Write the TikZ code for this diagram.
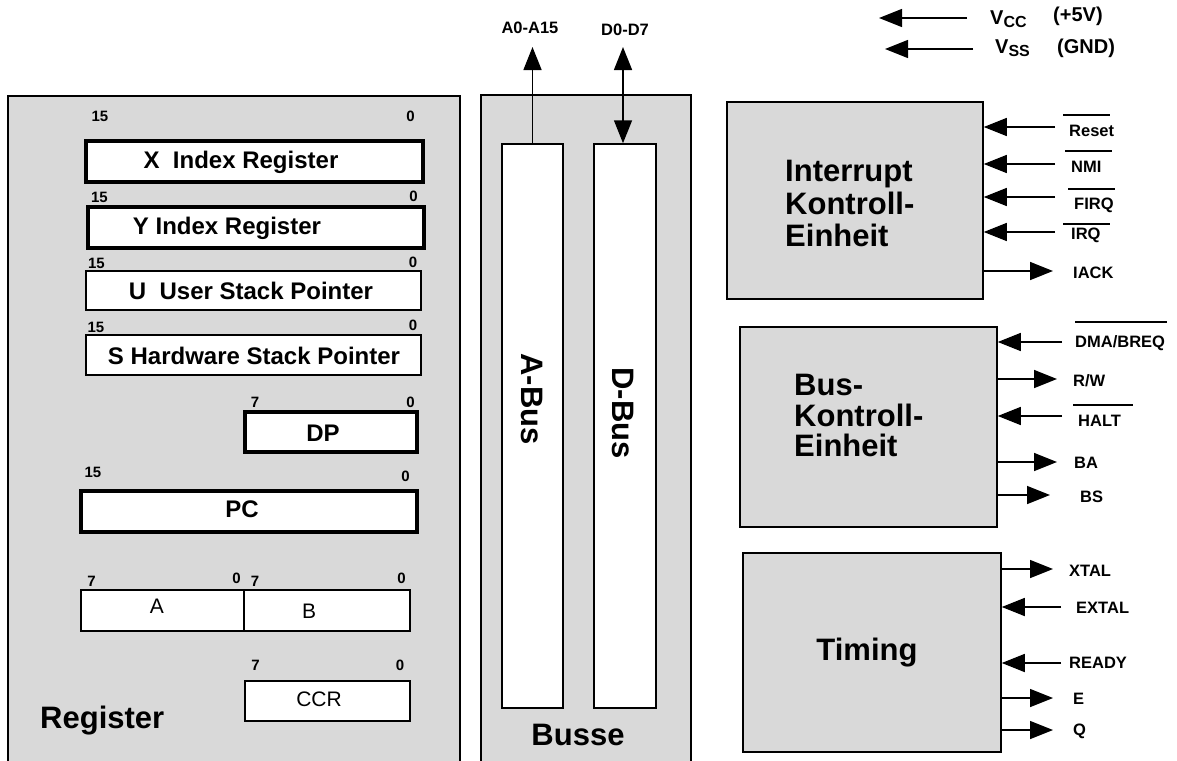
\documentclass[tikz,border=0pt]{standalone}
\usepackage{fontspec}
\setmainfont{Liberation Sans}
\usetikzlibrary{arrows.meta}
\definecolor{panel}{RGB}{217,217,217}
\begin{document}
\begin{tikzpicture}[x=1pt,y=-1pt,
  panelbox/.style={draw, line width=1.5pt, fill=panel, inner sep=0pt},
  busbox/.style={draw, line width=1.5pt, fill=white, inner sep=0pt},
  regthick/.style={draw, line width=3.2pt, fill=white, inner sep=0pt},
  regthin/.style={draw, line width=1.8pt, fill=white, inner sep=0pt},
  regtxt/.style={font=\fontsize{24}{24}\selectfont\bfseries, inner sep=0pt},
  regplain/.style={font=\fontsize{21}{21}\selectfont, inner sep=0pt},
  bitnum/.style={font=\fontsize{15}{15}\selectfont\bfseries, inner sep=0pt},
  bigtxt/.style={font=\bfseries, inner sep=0pt},
  sigtxt/.style={font=\fontsize{16.5}{16.5}\selectfont\bfseries, inner sep=0pt, anchor=west},
  vtxt/.style={font=\fontsize{20}{20}\selectfont\bfseries, inner sep=0pt},
  sig/.style={line width=1.5pt, -{Triangle[length=23pt,width=18pt]}},
  dsig/.style={line width=1.5pt, {Triangle[length=23pt,width=18pt]}-{Triangle[length=23pt,width=18pt]}},
  ovl/.style={line width=1.5pt},
]
\useasboundingbox (0,0) rectangle (1177,760);

% panels
\node[panelbox, minimum width=452pt, minimum height=674pt] (regpanel) at (234,433) {};
\node[panelbox, minimum width=210pt, minimum height=675pt] (buspanel) at (586,432.5) {};
\node[panelbox, minimum width=256pt, minimum height=197pt] (intr) at (855,200.5) {};
\node[panelbox, minimum width=257pt, minimum height=200pt] (busk) at (868.5,427) {};
\node[panelbox, minimum width=258pt, minimum height=199pt] (timing) at (872,652.5) {};

% registers
\node[regthick, minimum width=337pt, minimum height=41pt] (X) at (254.5,161.5) {};
\node[regtxt] (Xt) at (241,162) {X\ \ Index Register};
\node[bitnum] (X15) at (100,116) {15};
\node[bitnum] (X0) at (410.5,116) {0};

\node[regthick, minimum width=336pt, minimum height=41pt] (Y) at (256,227.5) {};
\node[regtxt] (Yt) at (227,228) {Y Index Register};
\node[bitnum] (Y15) at (99.5,197) {15};
\node[bitnum] (Y0) at (413.5,196) {0};

\node[regthin, minimum width=335pt, minimum height=39pt] (U) at (253.5,290.5) {};
\node[regtxt] (Ut) at (251,291) {U\ \ User Stack Pointer};
\node[bitnum] (U15) at (96.5,263) {15};
\node[bitnum] (U0) at (413,262) {0};

\node[regthin, minimum width=335pt, minimum height=40pt] (S) at (253.5,355) {};
\node[regtxt] (St) at (254,356) {S Hardware Stack Pointer};
\node[bitnum] (S15) at (96,327) {15};
\node[bitnum] (S0) at (413,325) {0};

\node[regthick, minimum width=172pt, minimum height=40pt] (DP) at (331,432) {};
\node[regtxt] (DPt) at (323,433) {DP};
\node[bitnum] (DP7) at (255,402) {7};
\node[bitnum] (DP0) at (410.5,402) {0};

\node[regthick, minimum width=336pt, minimum height=41pt] (PC) at (249,511.5) {};
\node[regtxt] (PCt) at (242,509) {PC};
\node[bitnum] (PC15) at (93,472) {15};
\node[bitnum] (PC0) at (405.5,476) {0};

\node[regthin, minimum width=163pt, minimum height=41pt] (A) at (162.5,610.5) {};
\node[regthin, minimum width=166pt, minimum height=41pt] (B) at (327,610.5) {};
\node[regplain] (At) at (157,606) {A};
\node[regplain] (Bt) at (309,611) {B};
\node[bitnum] (A7) at (91.5,581) {7};
\node[bitnum] (A0) at (236.5,578) {0};
\node[bitnum] (B7) at (255,581) {7};
\node[bitnum] (B0) at (401.5,578) {0};

\node[regthin, minimum width=165pt, minimum height=40pt] (CCR) at (327.5,701) {};
\node[regplain] (CCRt) at (319,699) {CCR};
\node[bitnum] (CCR7) at (255.5,665) {7};
\node[bitnum] (CCR0) at (400,665) {0};

\node[bigtxt, font=\fontsize{31}{31}\selectfont\bfseries, anchor=base west] (regl) at (40,728) {Register};

% busses
\node[busbox, minimum width=61pt, minimum height=564pt] (abus) at (532.5,426) {};
\node[busbox, minimum width=62pt, minimum height=564pt] (dbus) at (625,426) {};
\node[bigtxt, font=\fontsize{31}{31}\selectfont\bfseries, rotate=-90] (abusl) at (532.5,399) {A-Bus};
\node[bigtxt, font=\fontsize{31}{31}\selectfont\bfseries, rotate=-90] (dbusl) at (623,413) {D-Bus};
\node[bigtxt, font=\fontsize{31}{31}\selectfont\bfseries, anchor=base] (bussel) at (578,745) {Busse};

\coordinate (atop) at (532.5,47);
\coordinate (dtop) at (623,47);
\draw[sig] (abus.north) -- (atop);
\draw[dsig] (dtop) -- (dtop |- dbus.north);
\node[sigtxt, anchor=center] (al) at (530,28) {A0-A15};
\node[sigtxt, anchor=center] (dl) at (625,30) {D0-D7};

% power
\node[vtxt, anchor=base west] (vcc) at (990,25) {V\raisebox{-3pt}{\fontsize{16}{16}\selectfont CC}};
\node[vtxt, anchor=base west] (vccv) at (1053,22) {(+5V)};
\node[vtxt, anchor=base west] (vss) at (995,53) {V\raisebox{-3pt}{\fontsize{16}{16}\selectfont SS}};
\node[vtxt, anchor=base west] (vssv) at (1057,53) {(GND)};
\coordinate (vccA) at (967,18);
\coordinate (vccB) at (879,18);
\coordinate (vssA) at (973,49);
\coordinate (vssB) at (885,49);
\draw[sig] (vccA) -- (vccB);
\draw[sig] (vssA) -- (vssB);

% interrupt unit
\node[bigtxt, font=\fontsize{31}{32.5}\selectfont\bfseries, align=left, anchor=north west] (intrl) at (785,160) {Interrupt\\Kontroll-\\Einheit};
\coordinate (rst) at (1055,127);
\coordinate (nmi) at (1055,164);
\coordinate (firq) at (1055,197);
\coordinate (irq) at (1055,232);
\coordinate (iack) at (1053,271);
\draw[sig] (rst) -- (rst -| intr.east);
\draw[sig] (nmi) -- (nmi -| intr.east);
\draw[sig] (firq) -- (firq -| intr.east);
\draw[sig] (irq) -- (irq -| intr.east);
\draw[sig] (intr.east |- iack) -- (iack);
\node[sigtxt] (rstl) at (1069,131) {Reset};
\node[sigtxt] (nmil) at (1071,167) {NMI};
\node[sigtxt] (firql) at (1074,205) {FIRQ};
\node[sigtxt] (irql) at (1071,235) {IRQ};
\node[sigtxt] (iackl) at (1073,273) {IACK};
\draw[ovl] (1063,115) -- (1110,115);
\draw[ovl] (1065,151) -- (1112,151);
\draw[ovl] (1068,189) -- (1115,189);
\draw[ovl] (1063,224) -- (1110,224);

% bus control unit
\node[bigtxt, font=\fontsize{31}{30.5}\selectfont\bfseries, align=left, anchor=north west] (buskl) at (794,374) {Bus-\\Kontroll-\\Einheit};
\coordinate (dma) at (1062,342);
\coordinate (rw) at (1057,379);
\coordinate (halt) at (1062,416);
\coordinate (ba) at (1057,462);
\coordinate (bs) at (1050,495);
\draw[sig] (dma) -- (dma -| busk.east);
\draw[sig] (busk.east |- rw) -- (rw);
\draw[sig] (halt) -- (halt -| busk.east);
\draw[sig] (busk.east |- ba) -- (ba);
\draw[sig] (busk.east |- bs) -- (bs);
\node[sigtxt] (dmal) at (1075,343) {DMA/BREQ};
\node[sigtxt] (rwl) at (1073,381) {R/W};
\node[sigtxt] (haltl) at (1078,421) {HALT};
\node[sigtxt] (bal) at (1074,463) {BA};
\node[sigtxt] (bsl) at (1080,497) {BS};
\draw[ovl] (1075,322) -- (1167,322);
\draw[ovl] (1073,405) -- (1133,405);

% timing unit
\node[bigtxt, font=\fontsize{31}{31}\selectfont\bfseries, anchor=base] (timl) at (867,660) {Timing};
\coordinate (xtal) at (1053,569);
\coordinate (extal) at (1061,607);
\coordinate (ready) at (1061,663);
\coordinate (eo) at (1053,698);
\coordinate (qo) at (1053,730);
\draw[sig] (timing.east |- xtal) -- (xtal);
\draw[sig] (extal) -- (extal -| timing.east);
\draw[sig] (ready) -- (ready -| timing.east);
\draw[sig] (timing.east |- eo) -- (eo);
\draw[sig] (timing.east |- qo) -- (qo);
\node[sigtxt] (xtall) at (1069,571) {XTAL};
\node[sigtxt] (extall) at (1076,608) {EXTAL};
\node[sigtxt] (readyl) at (1069,663) {READY};
\node[sigtxt] (el) at (1073,699) {E};
\node[sigtxt] (ql) at (1073,731) {Q};
\end{tikzpicture}
\end{document}
